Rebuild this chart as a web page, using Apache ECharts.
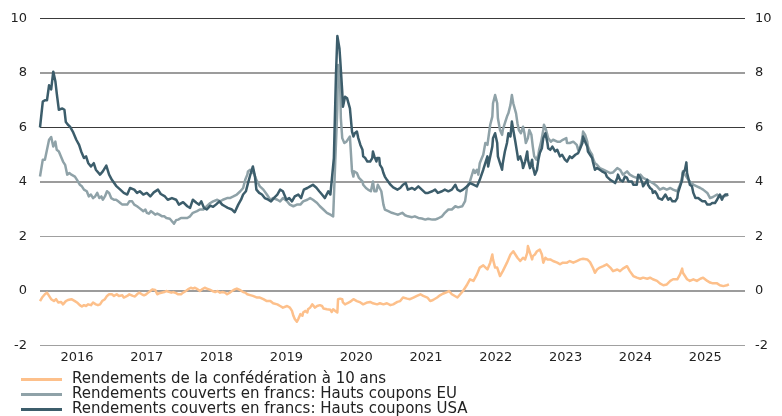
<!DOCTYPE html>
<html lang="fr">
<head>
    <meta charset="UTF-8">
    <title>Rendements</title>
    <script src="https://cdn.jsdelivr.net/npm/echarts@6/dist/echarts.min.js"></script>
    <style>
        html, body {margin: 0; padding: 0; background: #fff;}
        #chart {width: 782px; height: 416px;}
    </style>
</head>
<body>
<div id="chart"></div>
<script>
    // noms des séries (légende)
    const seriesNames = [
        'Rendements de la confédération à 10 ans',
        'Rendements couverts en francs: Hauts coupons EU',
        'Rendements couverts en francs: Hauts coupons USA'
    ];
    // étiquettes de l'axe x (centrées au milieu de l'année)
    const yearLabels = [2016, 2017, 2018, 2019, 2020, 2021, 2022, 2023, 2024, 2025];
    const xRange = [2015.97, 2026.07];
    const yTicks = [-2, 0, 2, 4, 6, 8, 10];
    // lignes de grille grises (les autres sont foncées)
    const lightGridValues = [-2, 2];

    // [année décimale, rendement %]
    const confData = [
        [2015.97,-0.37],[2016.00,-0.24],[2016.04,-0.12],[2016.07,-0.06],[2016.10,-0.18],[2016.13,-0.3],[2016.17,-0.37],[2016.20,-0.3],
        [2016.23,-0.42],[2016.27,-0.4],[2016.30,-0.49],[2016.34,-0.37],[2016.37,-0.33],[2016.42,-0.3],[2016.44,-0.3],[2016.47,-0.37],
        [2016.50,-0.42],[2016.54,-0.52],[2016.57,-0.57],[2016.60,-0.52],[2016.63,-0.55],[2016.66,-0.49],[2016.70,-0.52],[2016.73,-0.42],
        [2016.77,-0.49],[2016.80,-0.52],[2016.83,-0.49],[2016.86,-0.37],[2016.90,-0.3],[2016.93,-0.18],[2016.96,-0.12],[2017.00,-0.12],
        [2017.03,-0.18],[2017.07,-0.12],[2017.10,-0.18],[2017.15,-0.16],[2017.17,-0.24],[2017.22,-0.18],[2017.25,-0.12],[2017.27,-0.06],
        [2017.30,-0.18],[2017.33,-0.2],[2017.36,-0.12],[2017.39,-0.06],[2017.43,-0.12],[2017.46,-0.16],[2017.49,-0.12],[2017.52,-0.06],
        [2017.55,0.0],[2017.58,0.06],[2017.62,0.04],[2017.65,-0.12],[2017.68,-0.08],[2017.70,-0.12],[2017.75,-0.04],[2017.78,0.0],
        [2017.80,-0.04],[2017.85,-0.06],[2017.88,-0.04],[2017.92,-0.08],[2017.95,-0.12],[2017.99,-0.12],[2018.02,-0.06],[2018.06,0.0],
        [2018.09,0.06],[2018.13,0.12],[2018.16,0.09],[2018.19,0.12],[2018.23,0.06],[2018.26,0.0],[2018.29,0.06],[2018.33,0.12],
        [2018.36,0.09],[2018.41,0.04],[2018.44,0.0],[2018.48,-0.04],[2018.51,0.0],[2018.55,-0.06],[2018.58,-0.04],[2018.62,-0.06],
        [2018.65,-0.12],[2018.69,-0.06],[2018.72,0.0],[2018.76,0.06],[2018.79,0.09],[2018.84,0.03],[2018.88,-0.04],[2018.91,-0.06],
        [2018.94,-0.12],[2018.98,-0.15],[2019.02,-0.18],[2019.08,-0.24],[2019.12,-0.24],[2019.17,-0.3],[2019.22,-0.37],[2019.27,-0.37],
        [2019.31,-0.45],[2019.37,-0.49],[2019.41,-0.55],[2019.45,-0.61],[2019.51,-0.55],[2019.55,-0.61],[2019.58,-0.73],[2019.60,-0.91],
        [2019.62,-1.03],[2019.65,-1.13],[2019.67,-1.03],[2019.70,-0.85],[2019.73,-0.91],[2019.74,-0.79],[2019.77,-0.73],[2019.80,-0.79],
        [2019.81,-0.67],[2019.84,-0.61],[2019.87,-0.49],[2019.88,-0.55],[2019.91,-0.61],[2019.94,-0.55],[2019.95,-0.61],[2019.98,-0.52],
        [2020.01,-0.55],[2020.03,-0.64],[2020.05,-0.61],[2020.08,-0.67],[2020.10,-0.73],[2020.13,-0.69],[2020.15,-0.77],[2020.17,-0.67],
        [2020.20,-0.73],[2020.23,-0.79],[2020.24,-0.3],[2020.27,-0.28],[2020.30,-0.3],[2020.31,-0.42],[2020.34,-0.49],[2020.37,-0.45],
        [2020.41,-0.4],[2020.46,-0.3],[2020.51,-0.37],[2020.56,-0.42],[2020.60,-0.49],[2020.66,-0.42],[2020.70,-0.4],[2020.74,-0.45],
        [2020.80,-0.49],[2020.84,-0.45],[2020.89,-0.49],[2020.94,-0.45],[2020.99,-0.52],[2021.03,-0.49],[2021.09,-0.4],[2021.13,-0.37],
        [2021.17,-0.24],[2021.23,-0.28],[2021.27,-0.3],[2021.32,-0.24],[2021.37,-0.18],[2021.42,-0.12],[2021.46,-0.18],[2021.52,-0.24],
        [2021.56,-0.37],[2021.60,-0.33],[2021.66,-0.24],[2021.70,-0.16],[2021.74,-0.1],[2021.80,-0.04],[2021.83,0.0],[2021.87,-0.12],
        [2021.89,-0.18],[2021.95,-0.24],[2021.99,-0.12],[2022.03,0.0],[2022.09,0.24],[2022.13,0.43],[2022.18,0.37],[2022.23,0.61],
        [2022.27,0.86],[2022.32,0.94],[2022.38,0.79],[2022.42,1.04],[2022.45,1.34],[2022.46,1.16],[2022.49,0.86],[2022.52,0.86],
        [2022.56,0.55],[2022.60,0.73],[2022.66,1.04],[2022.71,1.34],[2022.75,1.46],[2022.81,1.22],[2022.85,1.1],[2022.89,1.22],
        [2022.92,1.16],[2022.95,1.4],[2022.96,1.65],[2022.99,1.4],[2023.02,1.16],[2023.03,1.28],[2023.06,1.34],[2023.09,1.46],
        [2023.13,1.52],[2023.16,1.34],[2023.18,1.04],[2023.21,1.22],[2023.24,1.16],[2023.28,1.16],[2023.32,1.1],[2023.38,1.04],
        [2023.42,0.98],[2023.46,1.04],[2023.52,1.04],[2023.56,1.1],[2023.61,1.04],[2023.66,1.1],[2023.71,1.16],[2023.75,1.18],
        [2023.81,1.16],[2023.85,1.06],[2023.89,0.86],[2023.92,0.67],[2023.95,0.79],[2023.99,0.86],[2024.04,0.91],[2024.09,0.98],
        [2024.14,0.86],[2024.18,0.73],[2024.24,0.79],[2024.28,0.73],[2024.32,0.82],[2024.38,0.91],[2024.42,0.73],[2024.47,0.55],
        [2024.52,0.49],[2024.57,0.45],[2024.61,0.49],[2024.67,0.45],[2024.71,0.49],[2024.75,0.43],[2024.81,0.37],[2024.85,0.28],
        [2024.90,0.21],[2024.95,0.24],[2025.00,0.37],[2025.04,0.43],[2025.10,0.43],[2025.14,0.61],[2025.17,0.82],[2025.18,0.67],
        [2025.24,0.43],[2025.28,0.37],[2025.33,0.43],[2025.38,0.37],[2025.43,0.45],[2025.47,0.49],[2025.53,0.37],[2025.57,0.31],
        [2025.61,0.28],[2025.67,0.28],[2025.71,0.21],[2025.76,0.18],[2025.81,0.21],[2025.84,0.24]
    ];

    const euData = [
        [2015.97,4.2],[2016.01,4.82],[2016.04,4.82],[2016.07,5.18],[2016.10,5.55],[2016.13,5.65],[2016.16,5.3],[2016.19,5.48],
        [2016.21,5.18],[2016.24,5.12],[2016.27,4.94],[2016.30,4.75],[2016.33,4.63],[2016.36,4.27],[2016.39,4.33],[2016.42,4.27],
        [2016.44,4.33],[2016.47,4.2],[2016.50,4.08],[2016.52,4.15],[2016.54,3.9],[2016.57,3.84],[2016.60,3.72],[2016.64,3.66],
        [2016.67,3.47],[2016.70,3.54],[2016.73,3.41],[2016.76,3.47],[2016.79,3.6],[2016.82,3.41],[2016.85,3.47],[2016.87,3.35],
        [2016.90,3.47],[2016.93,3.66],[2016.96,3.6],[2016.99,3.41],[2017.03,3.35],[2017.06,3.35],[2017.09,3.29],[2017.12,3.23],
        [2017.15,3.17],[2017.17,3.23],[2017.22,3.17],[2017.25,3.29],[2017.29,3.29],[2017.32,3.17],[2017.36,3.11],[2017.39,3.05],
        [2017.42,2.99],[2017.45,2.93],[2017.48,2.99],[2017.50,2.87],[2017.53,2.84],[2017.56,2.93],[2017.59,2.87],[2017.62,2.8],
        [2017.65,2.84],[2017.68,2.8],[2017.72,2.74],[2017.75,2.74],[2017.78,2.68],[2017.80,2.68],[2017.83,2.65],[2017.86,2.56],
        [2017.89,2.47],[2017.92,2.6],[2017.95,2.62],[2017.99,2.68],[2018.03,2.68],[2018.08,2.68],[2018.12,2.74],[2018.16,2.87],
        [2018.22,2.93],[2018.26,2.99],[2018.31,2.99],[2018.36,3.11],[2018.41,3.23],[2018.45,3.29],[2018.51,3.35],[2018.55,3.29],
        [2018.59,3.35],[2018.65,3.41],[2018.69,3.41],[2018.74,3.47],[2018.79,3.54],[2018.84,3.66],[2018.88,3.78],[2018.91,4.08],
        [2018.94,4.27],[2018.95,4.39],[2018.98,4.45],[2019.01,4.33],[2019.02,4.45],[2019.05,4.2],[2019.08,4.02],[2019.12,3.84],
        [2019.17,3.72],[2019.22,3.54],[2019.27,3.35],[2019.31,3.41],[2019.37,3.35],[2019.41,3.29],[2019.45,3.41],[2019.51,3.29],
        [2019.55,3.17],[2019.60,3.11],[2019.65,3.17],[2019.70,3.17],[2019.74,3.29],[2019.80,3.35],[2019.84,3.41],[2019.88,3.35],
        [2019.94,3.23],[2019.98,3.11],[2020.03,2.99],[2020.08,2.87],[2020.13,2.8],[2020.17,2.74],[2020.18,3.41],[2020.20,4.75],
        [2020.23,6.7],[2020.24,8.29],[2020.27,7.56],[2020.28,6.34],[2020.30,5.61],[2020.33,5.43],[2020.36,5.48],[2020.38,5.43],
        [2020.41,5.67],[2020.44,4.39],[2020.46,4.2],[2020.47,4.39],[2020.51,4.33],[2020.54,4.15],[2020.59,4.02],[2020.60,3.9],
        [2020.64,3.78],[2020.67,3.72],[2020.71,3.66],[2020.74,4.02],[2020.76,3.66],[2020.79,3.66],[2020.81,3.9],[2020.86,3.66],
        [2020.89,3.17],[2020.91,2.99],[2020.96,2.93],[2021.01,2.87],[2021.06,2.83],[2021.10,2.8],[2021.16,2.87],[2021.20,2.78],
        [2021.24,2.74],[2021.30,2.71],[2021.34,2.74],[2021.39,2.68],[2021.44,2.66],[2021.49,2.62],[2021.53,2.65],[2021.59,2.62],
        [2021.63,2.62],[2021.67,2.66],[2021.73,2.74],[2021.77,2.87],[2021.82,2.99],[2021.87,2.99],[2021.92,3.11],[2021.96,3.07],
        [2022.02,3.11],[2022.06,3.3],[2022.09,3.84],[2022.13,4.02],[2022.18,4.45],[2022.20,4.33],[2022.23,4.45],[2022.25,4.27],
        [2022.27,4.69],[2022.30,4.88],[2022.32,5.0],[2022.35,5.43],[2022.38,5.36],[2022.39,5.55],[2022.42,6.1],[2022.45,6.4],
        [2022.46,6.89],[2022.49,7.19],[2022.52,6.89],[2022.53,6.34],[2022.56,5.91],[2022.59,5.73],[2022.60,5.91],[2022.63,6.16],
        [2022.66,6.4],[2022.68,6.52],[2022.71,6.83],[2022.73,7.19],[2022.75,6.89],[2022.76,6.95],[2022.79,6.52],[2022.81,6.16],
        [2022.83,5.91],[2022.86,5.79],[2022.89,6.03],[2022.91,5.79],[2022.93,5.43],[2022.96,5.61],[2022.98,5.91],[2023.01,5.73],
        [2023.03,5.3],[2023.05,4.94],[2023.08,4.82],[2023.11,5.0],[2023.12,5.18],[2023.15,5.48],[2023.18,5.91],[2023.19,6.1],
        [2023.22,5.91],[2023.25,5.61],[2023.26,5.55],[2023.29,5.48],[2023.32,5.55],[2023.38,5.48],[2023.42,5.48],[2023.46,5.55],
        [2023.51,5.61],[2023.52,5.43],[2023.56,5.43],[2023.61,5.48],[2023.66,5.36],[2023.68,5.18],[2023.71,5.3],[2023.74,5.61],
        [2023.75,5.85],[2023.78,5.73],[2023.81,5.48],[2023.82,5.3],[2023.85,5.12],[2023.88,5.0],[2023.89,4.88],[2023.92,4.69],
        [2023.95,4.63],[2023.97,4.63],[2023.99,4.51],[2024.04,4.45],[2024.09,4.39],[2024.14,4.33],[2024.18,4.35],[2024.24,4.51],
        [2024.28,4.45],[2024.32,4.27],[2024.38,4.39],[2024.42,4.27],[2024.47,4.2],[2024.52,4.15],[2024.57,4.27],[2024.61,4.15],
        [2024.67,4.08],[2024.71,4.02],[2024.75,3.96],[2024.81,3.84],[2024.85,3.72],[2024.90,3.78],[2024.95,3.72],[2025.00,3.78],
        [2025.04,3.72],[2025.10,3.66],[2025.14,3.9],[2025.17,4.2],[2025.18,4.39],[2025.21,4.27],[2025.24,4.15],[2025.28,4.02],
        [2025.33,3.9],[2025.38,3.84],[2025.43,3.78],[2025.47,3.72],[2025.53,3.6],[2025.57,3.41],[2025.61,3.45],[2025.67,3.54],
        [2025.71,3.45],[2025.76,3.47],[2025.81,3.5],[2025.83,3.54]
    ];

    const usaData = [
        [2015.97,6.0],[2016.01,6.95],[2016.04,7.0],[2016.07,7.0],[2016.10,7.55],[2016.13,7.4],[2016.16,8.05],[2016.19,7.7],
        [2016.21,7.25],[2016.24,6.65],[2016.29,6.7],[2016.32,6.65],[2016.34,6.2],[2016.37,6.1],[2016.40,6.03],[2016.44,5.85],
        [2016.49,5.55],[2016.53,5.36],[2016.56,5.12],[2016.60,4.88],[2016.63,4.94],[2016.66,4.7],[2016.70,4.57],[2016.74,4.69],
        [2016.77,4.45],[2016.83,4.27],[2016.87,4.39],[2016.92,4.6],[2016.96,4.27],[2017.00,4.08],[2017.06,3.86],[2017.12,3.72],
        [2017.17,3.6],[2017.22,3.54],[2017.26,3.78],[2017.32,3.72],[2017.36,3.6],[2017.40,3.66],[2017.45,3.54],[2017.50,3.6],
        [2017.55,3.47],[2017.60,3.62],[2017.66,3.72],[2017.70,3.56],[2017.76,3.47],[2017.80,3.35],[2017.86,3.41],[2017.92,3.35],
        [2017.96,3.17],[2018.02,3.26],[2018.08,3.11],[2018.12,3.05],[2018.16,3.35],[2018.21,3.24],[2018.25,3.17],[2018.28,3.29],
        [2018.32,3.05],[2018.36,2.99],[2018.41,3.13],[2018.45,3.09],[2018.49,3.17],[2018.54,3.29],[2018.58,3.17],[2018.62,3.11],
        [2018.66,3.05],[2018.72,2.99],[2018.76,2.89],[2018.81,3.17],[2018.85,3.35],[2018.88,3.54],[2018.92,3.66],[2018.95,3.96],
        [2018.99,4.33],[2019.02,4.57],[2019.05,4.2],[2019.07,3.72],[2019.11,3.6],[2019.15,3.54],[2019.19,3.41],[2019.24,3.35],
        [2019.28,3.29],[2019.32,3.41],[2019.37,3.54],[2019.41,3.72],[2019.45,3.66],[2019.50,3.35],[2019.54,3.41],[2019.58,3.29],
        [2019.62,3.47],[2019.67,3.54],[2019.71,3.41],[2019.75,3.72],[2019.80,3.78],[2019.84,3.84],[2019.88,3.9],[2019.93,3.79],
        [2019.97,3.66],[2020.01,3.54],[2020.05,3.41],[2020.10,3.66],[2020.13,3.54],[2020.15,3.47],[2020.18,4.88],[2020.21,7.92],
        [2020.23,9.36],[2020.26,8.9],[2020.27,8.53],[2020.30,7.31],[2020.31,6.76],[2020.34,7.13],[2020.37,7.07],[2020.38,7.13],
        [2020.41,6.7],[2020.44,5.85],[2020.46,5.67],[2020.48,5.79],[2020.51,5.85],[2020.53,5.61],[2020.56,5.36],[2020.59,5.18],
        [2020.60,4.94],[2020.63,4.88],[2020.66,4.75],[2020.67,4.82],[2020.70,4.75],[2020.73,4.88],[2020.74,5.12],[2020.76,4.94],
        [2020.79,4.75],[2020.80,4.88],[2020.83,4.88],[2020.84,4.63],[2020.87,4.51],[2020.89,4.33],[2020.91,4.2],[2020.94,4.08],
        [2020.99,3.9],[2021.03,3.8],[2021.09,3.72],[2021.13,3.78],[2021.17,3.9],[2021.21,3.96],[2021.24,3.72],[2021.30,3.78],
        [2021.34,3.72],[2021.39,3.84],[2021.44,3.72],[2021.49,3.6],[2021.53,3.6],[2021.59,3.66],[2021.63,3.72],[2021.67,3.6],
        [2021.73,3.66],[2021.77,3.72],[2021.82,3.66],[2021.87,3.72],[2021.92,3.9],[2021.95,3.72],[2021.99,3.66],[2022.03,3.72],
        [2022.09,3.84],[2022.13,3.96],[2022.18,3.9],[2022.23,3.84],[2022.27,4.08],[2022.32,4.45],[2022.38,4.94],[2022.39,4.57],
        [2022.42,4.94],[2022.45,5.3],[2022.46,5.61],[2022.49,5.79],[2022.52,5.43],[2022.53,4.94],[2022.56,4.69],[2022.59,4.45],
        [2022.60,4.69],[2022.63,5.12],[2022.66,5.43],[2022.68,5.79],[2022.71,5.67],[2022.73,6.22],[2022.75,5.91],[2022.78,5.48],
        [2022.81,5.0],[2022.82,4.82],[2022.85,4.94],[2022.88,4.69],[2022.89,4.51],[2022.92,4.75],[2022.95,5.12],[2022.96,4.82],
        [2022.99,4.51],[2023.02,4.82],[2023.03,4.57],[2023.06,4.27],[2023.09,4.45],[2023.11,4.82],[2023.13,5.06],[2023.16,5.24],
        [2023.18,5.61],[2023.21,5.79],[2023.24,5.43],[2023.25,5.24],[2023.28,5.18],[2023.31,5.3],[2023.32,5.24],[2023.35,5.12],
        [2023.38,5.18],[2023.39,5.12],[2023.42,4.94],[2023.45,5.0],[2023.46,5.06],[2023.49,4.82],[2023.52,4.75],[2023.54,4.82],
        [2023.56,4.94],[2023.59,4.88],[2023.61,4.82],[2023.64,5.0],[2023.66,4.94],[2023.68,5.06],[2023.71,5.24],[2023.74,5.43],
        [2023.75,5.67],[2023.78,5.48],[2023.81,5.3],[2023.82,5.12],[2023.85,5.0],[2023.88,4.88],[2023.89,4.75],[2023.92,4.45],
        [2023.95,4.51],[2023.97,4.57],[2023.99,4.45],[2024.02,4.39],[2024.04,4.45],[2024.07,4.33],[2024.09,4.2],[2024.14,4.08],
        [2024.18,4.02],[2024.21,3.96],[2024.24,4.15],[2024.25,4.27],[2024.28,4.08],[2024.32,4.02],[2024.35,4.2],[2024.38,4.15],
        [2024.40,4.02],[2024.42,3.96],[2024.45,4.02],[2024.47,3.9],[2024.52,3.9],[2024.54,4.27],[2024.57,4.15],[2024.60,3.96],
        [2024.61,3.84],[2024.64,3.96],[2024.67,4.08],[2024.68,3.9],[2024.71,3.78],[2024.74,3.72],[2024.75,3.6],[2024.78,3.66],
        [2024.81,3.54],[2024.83,3.41],[2024.85,3.47],[2024.88,3.35],[2024.90,3.41],[2024.93,3.54],[2024.95,3.47],[2024.97,3.35],
        [2025.00,3.41],[2025.03,3.29],[2025.04,3.23],[2025.07,3.29],[2025.10,3.41],[2025.11,3.6],[2025.14,3.84],[2025.17,4.08],
        [2025.18,4.33],[2025.21,4.45],[2025.23,4.72],[2025.24,4.33],[2025.27,4.02],[2025.28,3.9],[2025.31,3.84],[2025.33,3.6],
        [2025.36,3.41],[2025.38,3.35],[2025.40,3.41],[2025.43,3.35],[2025.46,3.29],[2025.47,3.23],[2025.50,3.29],[2025.53,3.17],
        [2025.54,3.23],[2025.57,3.17],[2025.60,3.23],[2025.61,3.29],[2025.64,3.23],[2025.67,3.35],[2025.69,3.41],[2025.71,3.54],
        [2025.74,3.35],[2025.76,3.47],[2025.79,3.54],[2025.81,3.47],[2025.83,3.54]
    ];

    const colors   = ['#FDC08B', '#8FA2A8', '#3C5D6B'];
    const fontName = 'DejaVu Sans';

    let chart = echarts.init(document.getElementById('chart'), null, {renderer: 'canvas'});

    function yAxisCfg(position) {
        return {
            type     : 'value',
            position : position,
            min      : yTicks[0],
            max      : yTicks[yTicks.length - 1],
            interval : 2,
            axisLine : {show: false},
            axisTick : {show: false},
            splitLine: {show: false},
            axisLabel: {
                color     : '#222',
                fontSize  : 13,
                fontFamily: fontName,
                margin    : position === 'left' ? 13 : 10
            }
        };
    }

    // lignes horizontales de la grille, d'un bord à l'autre de l'axe x
    let gridSeries = yTicks.map(function (v) {
        return {
            name      : 'grille ' + v,
            type      : 'line',
            data      : [[xRange[0], v], [xRange[1], v]],
            showSymbol: false,
            symbol    : 'none',
            silent    : true,
            z         : 1,
            lineStyle : {
                color: lightGridValues.indexOf(v) >= 0 ? '#a0a0a0' : '#3a3a3a',
                width: 1.2
            }
        };
    });

    let lineSeries = [confData, euData, usaData].map(function (d, i) {
        return {
            name      : seriesNames[i],
            type      : 'line',
            data      : d,
            showSymbol: false,
            symbol    : 'none',
            lineStyle : {width: 2.5, color: colors[i], join: 'round'},
            itemStyle : {color: colors[i]},
            z         : 3 + i
        };
    });

    let option = {
        animation: false,
        color    : colors,
        grid     : {left: 40, right: 37, top: 18.5, bottom: 70.5, containLabel: false},
        legend   : {
            orient    : 'vertical',
            left      : 21,
            top       : 372,
            height    : 80,
            padding   : 0,
            itemWidth : 41,
            itemHeight: 3,
            itemGap   : 0,
            icon      : 'rect',
            data      : seriesNames,
            textStyle : {
                color     : '#222',
                fontSize  : 15,
                fontFamily: fontName,
                lineHeight: 14,
                padding   : [0, 0, 0, 5]
            }
        },
        xAxis    : {
            type     : 'value',
            min      : xRange[0],
            max      : xRange[1],
            axisLine : {show: false},
            axisTick : {show: false},
            splitLine: {show: false},
            axisLabel: {
                customValues: yearLabels.map(function (y) { return y + 0.5; }),
                color       : '#222',
                fontSize    : 13,
                fontFamily  : fontName,
                margin      : 6,
                formatter   : function (v) { return String(Math.floor(v)); }
            }
        },
        yAxis    : [yAxisCfg('left'), yAxisCfg('right')],
        series   : gridSeries.concat(lineSeries)
    };

    chart.setOption(option);
</script>
</body>
</html>
